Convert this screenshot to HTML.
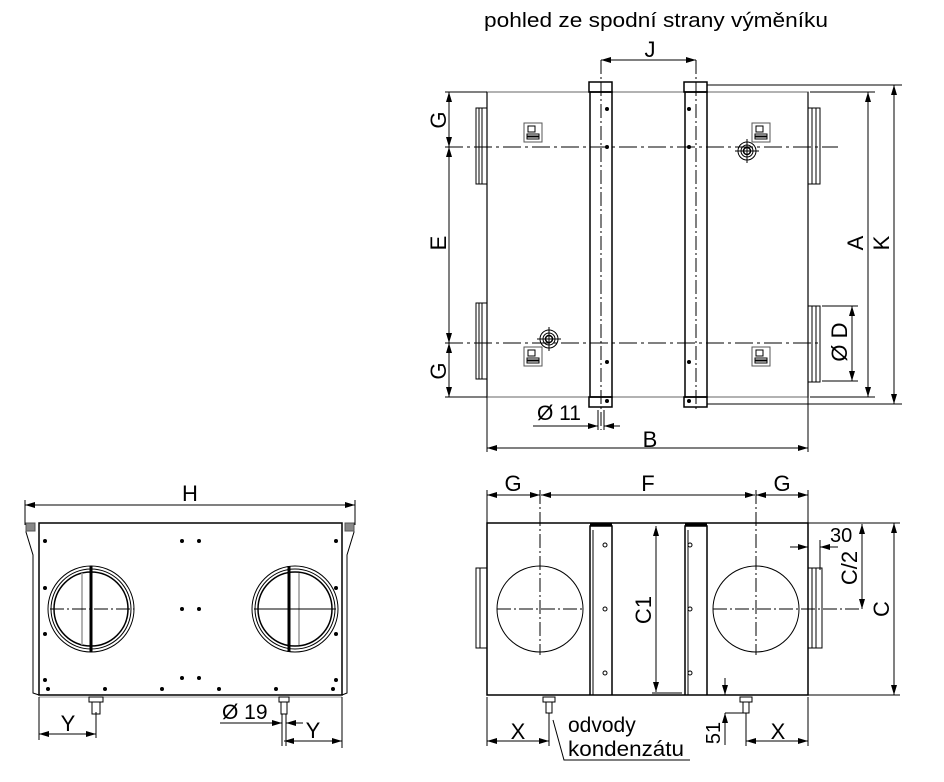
<!DOCTYPE html>
<html><head><meta charset="utf-8"><style>
html,body{margin:0;padding:0;background:#fff;}
svg{display:block;}
text{font-family:"Liberation Sans",Arial,sans-serif;fill:#000;}
</style></head><body>
<svg width="944" height="782" viewBox="0 0 944 782" xmlns="http://www.w3.org/2000/svg">
<defs>
<marker id="a" viewBox="0 0 10 6" refX="10" refY="3" markerWidth="10" markerHeight="6" orient="auto-start-reverse" markerUnits="userSpaceOnUse"><path d="M0,0L10,3L0,6z" fill="#000"/></marker>
<g id="lbl"><rect x="0" y="0" width="18" height="19" fill="#fff" stroke="#555" stroke-width="1"/><rect x="4" y="3" width="7" height="6" fill="none" stroke="#000" stroke-width="1"/><rect x="3" y="11" width="12" height="2" fill="none" stroke="#000"/><rect x="3" y="14" width="12" height="2" fill="none" stroke="#000"/></g>
<g id="tgt"><circle r="9" fill="none" stroke="#000" stroke-width="1"/><circle r="6" fill="none" stroke="#000"/><circle r="3.5" fill="none" stroke="#000" stroke-width="1.5"/><line x1="-12" y1="0" x2="12" y2="0" stroke="#000"/><line x1="0" y1="-12" x2="0" y2="12" stroke="#000"/></g>
</defs>
<g stroke="#000" fill="none" stroke-width="1">
<!-- ===== TOP VIEW ===== -->
<text x="484" y="27" font-size="20" textLength="344" lengthAdjust="spacingAndGlyphs" stroke="none">pohled ze spodní strany výměníku</text>
<rect x="487" y="92" width="321" height="305" stroke="#999" stroke-width="1.5"/>
<line x1="487" y1="92" x2="487" y2="397" stroke="#000"/>
<line x1="808" y1="92" x2="808" y2="397" stroke="#000"/>
<rect x="476" y="108" width="11" height="76"/><line x1="479" y1="108" x2="479" y2="184"/><line x1="482" y1="108" x2="482" y2="184"/>
<rect x="476" y="303" width="11" height="76"/><line x1="479" y1="303" x2="479" y2="379"/><line x1="482" y1="303" x2="482" y2="379"/>
<rect x="808" y="108" width="12" height="76"/><line x1="812" y1="108" x2="812" y2="184"/><line x1="816" y1="108" x2="816" y2="184"/>
<rect x="808" y="306" width="12" height="76"/><line x1="812" y1="306" x2="812" y2="382"/><line x1="816" y1="306" x2="816" y2="382"/>
<rect x="589" y="82" width="23" height="10" stroke-width="1.5"/><rect x="589" y="397" width="23" height="10" stroke-width="1.5"/>
<rect x="590" y="92" width="22" height="305" stroke-width="1.5"/>
<rect x="684" y="82" width="23" height="10" stroke-width="1.5"/><rect x="684" y="397" width="23" height="10" stroke-width="1.5"/>
<rect x="685" y="92" width="22" height="305" stroke-width="1.5"/>
<line x1="601" y1="60" x2="601" y2="430" stroke-dasharray="14,3,2,3"/>
<line x1="696" y1="60" x2="696" y2="410" stroke-dasharray="14,3,2,3"/>
<line x1="445" y1="147" x2="838" y2="147" stroke-dasharray="18,4,3,4"/>
<line x1="445" y1="343" x2="820" y2="343" stroke-dasharray="18,4,3,4"/>
<g fill="#000" stroke="none">
<circle cx="607" cy="109" r="2"/><circle cx="607" cy="147" r="2"/><circle cx="607" cy="362" r="2"/><circle cx="607" cy="401" r="2"/>
<circle cx="689" cy="109" r="2"/><circle cx="689" cy="147" r="2"/><circle cx="689" cy="362" r="2"/><circle cx="689" cy="401" r="2"/>
</g>
<use href="#lbl" x="524" y="123"/><use href="#lbl" x="752" y="123"/><use href="#lbl" x="524" y="347"/><use href="#lbl" x="752" y="347"/>
<use href="#tgt" x="747" y="151"/><use href="#tgt" x="549" y="339"/>
<line x1="601" y1="60" x2="696" y2="60" marker-start="url(#a)" marker-end="url(#a)"/>
<line x1="445" y1="92" x2="487" y2="92"/><line x1="445" y1="397" x2="487" y2="397"/>
<line x1="449" y1="92" x2="449" y2="147" marker-start="url(#a)" marker-end="url(#a)"/>
<line x1="449" y1="147" x2="449" y2="343" marker-start="url(#a)" marker-end="url(#a)"/>
<line x1="449" y1="343" x2="449" y2="397" marker-start="url(#a)" marker-end="url(#a)"/>
<line x1="810" y1="92" x2="875" y2="92"/><line x1="810" y1="397" x2="875" y2="397"/>
<line x1="707" y1="85" x2="902" y2="85"/><line x1="707" y1="404" x2="902" y2="404"/>
<line x1="822" y1="306" x2="858" y2="306"/><line x1="822" y1="381" x2="858" y2="381"/>
<line x1="852" y1="306" x2="852" y2="381" marker-start="url(#a)" marker-end="url(#a)"/>
<line x1="868" y1="92" x2="868" y2="397" marker-start="url(#a)" marker-end="url(#a)"/>
<line x1="894" y1="85" x2="894" y2="404" marker-start="url(#a)" marker-end="url(#a)"/>
<line x1="598" y1="410" x2="598" y2="430"/><line x1="604" y1="410" x2="604" y2="430"/>
<line x1="533" y1="426" x2="598" y2="426" marker-end="url(#a)"/><line x1="620" y1="426" x2="604" y2="426" marker-end="url(#a)"/>
<line x1="487" y1="397" x2="487" y2="452"/><line x1="808" y1="397" x2="808" y2="452"/>
<line x1="487" y1="448" x2="808" y2="448" marker-start="url(#a)" marker-end="url(#a)"/>
</g>
<g font-size="22" stroke="none">
<text x="650" y="57" text-anchor="middle">J</text>
<text x="650" y="447" text-anchor="middle">B</text>
<text x="537" y="420" font-size="21">Ø 11</text>
<text transform="translate(446,120) rotate(-90)" text-anchor="middle">G</text>
<text transform="translate(446,243) rotate(-90)" text-anchor="middle">E</text>
<text transform="translate(446,371) rotate(-90)" text-anchor="middle">G</text>
<text transform="translate(847,342) rotate(-90)" text-anchor="middle">Ø D</text>
<text transform="translate(863,243) rotate(-90)" text-anchor="middle">A</text>
<text transform="translate(889,243) rotate(-90)" text-anchor="middle">K</text>
</g>

<!-- ===== FRONT VIEW ===== -->
<g stroke="#000" fill="none" stroke-width="1">
<line x1="25" y1="500" x2="25" y2="525"/><line x1="355" y1="500" x2="355" y2="525"/>
<line x1="25" y1="505" x2="355" y2="505" marker-start="url(#a)" marker-end="url(#a)"/>
<rect x="39" y="523" width="303" height="172" stroke-width="1.5"/>
<path d="M26,523 L26,532 L33,555 L33,693 L39,695"/>
<path d="M354,523 L354,532 L347,555 L347,693 L342,695"/>
<line x1="39" y1="697" x2="342" y2="697" stroke="#999"/>
<rect x="26" y="523" width="9" height="8" fill="#888" stroke="#555"/>
<rect x="345" y="523" width="9" height="8" fill="#888" stroke="#555"/>
<circle cx="91" cy="609" r="43"/><circle cx="91" cy="609" r="40"/><circle cx="91" cy="609" r="37" stroke-width="1.5"/>
<line x1="82" y1="573" x2="82" y2="645" stroke="#999" stroke-width="1.5"/>
<line x1="91" y1="566" x2="91" y2="652" stroke-width="3"/>
<line x1="50" y1="609" x2="134" y2="609" stroke-dasharray="14,3,2,3"/>
<circle cx="295" cy="609" r="43"/><circle cx="295" cy="609" r="40"/><circle cx="295" cy="609" r="37" stroke-width="1.5"/>
<line x1="299" y1="573" x2="299" y2="645" stroke="#999" stroke-width="1.5"/>
<line x1="289" y1="566" x2="289" y2="652" stroke-width="3"/>
<line x1="254" y1="609" x2="336" y2="609"/>
<rect x="89" y="697" width="14" height="5"/><rect x="92" y="702" width="8" height="12"/>
<rect x="279" y="697" width="10" height="5"/><rect x="281" y="702" width="6" height="12"/>
<line x1="96" y1="712" x2="96" y2="738"/>
<line x1="39" y1="697" x2="39" y2="740"/><line x1="342" y1="697" x2="342" y2="748"/>
<line x1="39" y1="734" x2="96" y2="734" marker-start="url(#a)" marker-end="url(#a)"/>
<line x1="282" y1="714" x2="282" y2="746"/><line x1="286" y1="714" x2="286" y2="746"/>
<line x1="220" y1="723" x2="282" y2="723" marker-end="url(#a)"/><line x1="303" y1="723" x2="286" y2="723" marker-end="url(#a)"/>
<line x1="284" y1="741" x2="342" y2="741" marker-start="url(#a)" marker-end="url(#a)"/>
</g>
<g fill="#000" stroke="none">
<circle cx="45" cy="541" r="2"/><circle cx="45" cy="588" r="2"/><circle cx="45" cy="634" r="2"/><circle cx="45" cy="680" r="2"/>
<circle cx="336" cy="541" r="2"/><circle cx="336" cy="588" r="2"/><circle cx="336" cy="634" r="2"/><circle cx="336" cy="680" r="2"/>
<circle cx="182" cy="541" r="2"/><circle cx="199" cy="541" r="2"/><circle cx="182" cy="609" r="2"/><circle cx="199" cy="609" r="2"/><circle cx="182" cy="678" r="2"/><circle cx="199" cy="678" r="2"/>
<circle cx="48" cy="689" r="2"/><circle cx="105" cy="689" r="2"/><circle cx="162" cy="689" r="2"/><circle cx="219" cy="689" r="2"/><circle cx="276" cy="689" r="2"/><circle cx="333" cy="689" r="2"/>
</g>
<g font-size="22" stroke="none">
<text x="190" y="501" text-anchor="middle">H</text>
<text x="68" y="731" text-anchor="middle">Y</text>
<text x="313" y="738" text-anchor="middle">Y</text>
<text x="222" y="719" font-size="21">Ø 19</text>
</g>

<!-- ===== SIDE VIEW ===== -->
<g stroke="#000" fill="none" stroke-width="1">
<rect x="487" y="523" width="321" height="172" stroke-width="1.5"/>
<rect x="476" y="568" width="11" height="80"/><line x1="480" y1="568" x2="480" y2="648"/>
<rect x="808" y="568" width="14" height="80"/><line x1="812" y1="568" x2="812" y2="648"/><line x1="816" y1="568" x2="816" y2="648"/>
<circle cx="540" cy="609" r="43"/><circle cx="756" cy="609" r="43"/>
<line x1="497" y1="609" x2="583" y2="609" stroke-dasharray="14,3,2,3"/>
<line x1="713" y1="609" x2="862" y2="609" stroke-dasharray="14,3,2,3"/>
<line x1="540" y1="490" x2="540" y2="655" stroke-dasharray="14,3,2,3"/>
<line x1="756" y1="490" x2="756" y2="655" stroke-dasharray="14,3,2,3"/>
<path d="M590,695 L590,526 L612,526 L612,695" stroke-width="1.5"/><line x1="590" y1="525" x2="612" y2="525" stroke-width="3"/>
<path d="M685,695 L685,526 L707,526 L707,695" stroke-width="1.5"/><line x1="685" y1="525" x2="707" y2="525" stroke-width="3"/>
<line x1="593" y1="530" x2="593" y2="695"/><line x1="688" y1="530" x2="688" y2="695"/>
<line x1="652" y1="693" x2="682" y2="693"/>
<circle cx="605" cy="545" r="2"/><circle cx="605" cy="609" r="2"/><circle cx="605" cy="673" r="2"/>
<circle cx="690" cy="545" r="2"/><circle cx="690" cy="609" r="2"/><circle cx="690" cy="673" r="2"/>
<line x1="487" y1="490" x2="487" y2="523"/><line x1="808" y1="490" x2="808" y2="523"/>
<line x1="487" y1="495" x2="540" y2="495" marker-start="url(#a)" marker-end="url(#a)"/>
<line x1="541" y1="495" x2="755" y2="495" marker-start="url(#a)" marker-end="url(#a)"/>
<line x1="756" y1="495" x2="808" y2="495" marker-start="url(#a)" marker-end="url(#a)"/>
<line x1="808" y1="523" x2="900" y2="523"/><line x1="808" y1="695" x2="900" y2="695"/>
<line x1="894" y1="523" x2="894" y2="695" marker-start="url(#a)" marker-end="url(#a)"/>
<line x1="862" y1="524" x2="862" y2="609" marker-start="url(#a)" marker-end="url(#a)"/>
<line x1="656" y1="526" x2="656" y2="692" marker-start="url(#a)" marker-end="url(#a)"/>
<line x1="820" y1="540" x2="820" y2="570"/>
<line x1="790" y1="547" x2="808" y2="547" marker-end="url(#a)"/><line x1="838" y1="547" x2="820" y2="547" marker-end="url(#a)"/>
<rect x="543" y="697" width="12" height="5"/><rect x="546" y="702" width="6" height="11"/>
<rect x="740" y="697" width="12" height="5"/><rect x="743" y="702" width="6" height="11"/>
<line x1="549" y1="713" x2="549" y2="746"/><line x1="746" y1="713" x2="746" y2="746"/>
<line x1="487" y1="697" x2="487" y2="746"/><line x1="808" y1="697" x2="808" y2="746"/>
<line x1="487" y1="741" x2="549" y2="741" marker-start="url(#a)" marker-end="url(#a)"/>
<line x1="746" y1="741" x2="808" y2="741" marker-start="url(#a)" marker-end="url(#a)"/>
<line x1="725" y1="678" x2="725" y2="695" marker-end="url(#a)"/>
<line x1="725" y1="745" x2="725" y2="713" marker-end="url(#a)"/>
<line x1="725" y1="713" x2="746" y2="713"/>
<path d="M553,720 L564,760 L690,760"/>
</g>
<g font-size="22" stroke="none">
<text x="513" y="491" text-anchor="middle">G</text>
<text x="648" y="491" text-anchor="middle">F</text>
<text x="782" y="491" text-anchor="middle">G</text>
<text x="830" y="542" font-size="20">30</text>
<text transform="translate(857,568) rotate(-90)" text-anchor="middle">C/2</text>
<text transform="translate(889,609) rotate(-90)" text-anchor="middle">C</text>
<text transform="translate(651,610) rotate(-90)" text-anchor="middle">C1</text>
<text transform="translate(720,733) rotate(-90)" text-anchor="middle" font-size="20">51</text>
<text x="518" y="739" text-anchor="middle">X</text>
<text x="778" y="739" text-anchor="middle">X</text>
<text x="568" y="732" font-size="21">odvody</text>
<text x="568" y="756" font-size="21" textLength="116" lengthAdjust="spacingAndGlyphs">kondenzátu</text>
</g>
</svg>
</body></html>
